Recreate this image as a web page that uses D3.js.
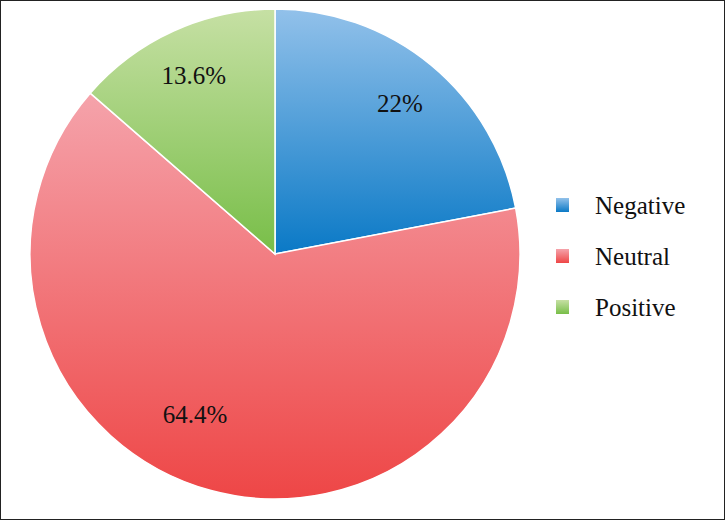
<!DOCTYPE html>
<html>
<head>
<meta charset="utf-8">
<script src="https://cdn.jsdelivr.net/npm/d3@7"></script>
<style>
  body { margin: 0; background: #fff; }
  svg { display: block; }
</style>
</head>
<body>
<div id="chart"></div>
<script>
const categories = ['Negative', 'Neutral', 'Positive']
const values = [22, 64.4, 13.6]
const labels = ['22%', '64.4%', '13.6%']
const colorsTop = ['#92c1ea', '#f5a3ab', '#c6e0a4']
const colorsBottom = ['#0a79c6', '#ee4646', '#78be48']

const width = 725, height = 520
const cx = 275, cy = 254, radius = 245

const svg = d3.select('#chart')
    .append('svg')
    .attr('width', width)
    .attr('height', height)

// outer border
svg.append('rect')
    .attr('x', 0.5).attr('y', 0.5)
    .attr('width', width - 1).attr('height', height - 1)
    .attr('fill', '#fff')
    .attr('stroke', '#222')

// vertical gradients, one per slice
const defs = svg.append('defs')
categories.forEach((c, i) => {
    const g = defs.append('linearGradient')
        .attr('id', 'grad' + i)
        .attr('x1', 0).attr('y1', 0).attr('x2', 0).attr('y2', 1)
    g.append('stop').attr('offset', '0%').attr('stop-color', colorsTop[i])
    g.append('stop').attr('offset', '100%').attr('stop-color', colorsBottom[i])
})

const pie = d3.pie().sort(null).value(d => d)
const arc = d3.arc().innerRadius(0).outerRadius(radius)
const labelArc = d3.arc().innerRadius(radius * 0.8).outerRadius(radius * 0.8)

const g = svg.append('g')
    .attr('transform', 'translate(' + cx + ',' + cy + ')')

const arcs = pie(values)

g.selectAll('path')
    .data(arcs)
    .enter()
    .append('path')
    .attr('d', arc)
    .attr('fill', (d, i) => 'url(#grad' + i + ')')
    .attr('stroke', '#fff')
    .attr('stroke-width', 1.5)

g.selectAll('text')
    .data(arcs)
    .enter()
    .append('text')
    .attr('transform', (d, i) => {
        let p = labelArc.centroid(d)
        if (i === 1) p = [-80, 160]
        return 'translate(' + p + ')'
    })
    .attr('text-anchor', 'middle')
    .attr('dy', '0.35em')
    .attr('font-family', 'Liberation Serif, DejaVu Serif, serif')
    .attr('font-size', 25)
    .attr('fill', '#111')
    .text((d, i) => labels[i])

// legend
const legend = svg.append('g').attr('transform', 'translate(556,198)')
categories.forEach((c, i) => {
    const row = legend.append('g').attr('transform', 'translate(0,' + (i * 51) + ')')
    row.append('rect')
        .attr('width', 13).attr('height', 14)
        .attr('fill', 'url(#grad' + i + ')')
    row.append('text')
        .attr('x', 39).attr('y', 7)
        .attr('dy', '0.35em')
        .attr('font-family', 'Liberation Serif, DejaVu Serif, serif')
        .attr('font-size', 25)
        .attr('fill', '#111')
        .text(c)
})
</script>
</body>
</html>
